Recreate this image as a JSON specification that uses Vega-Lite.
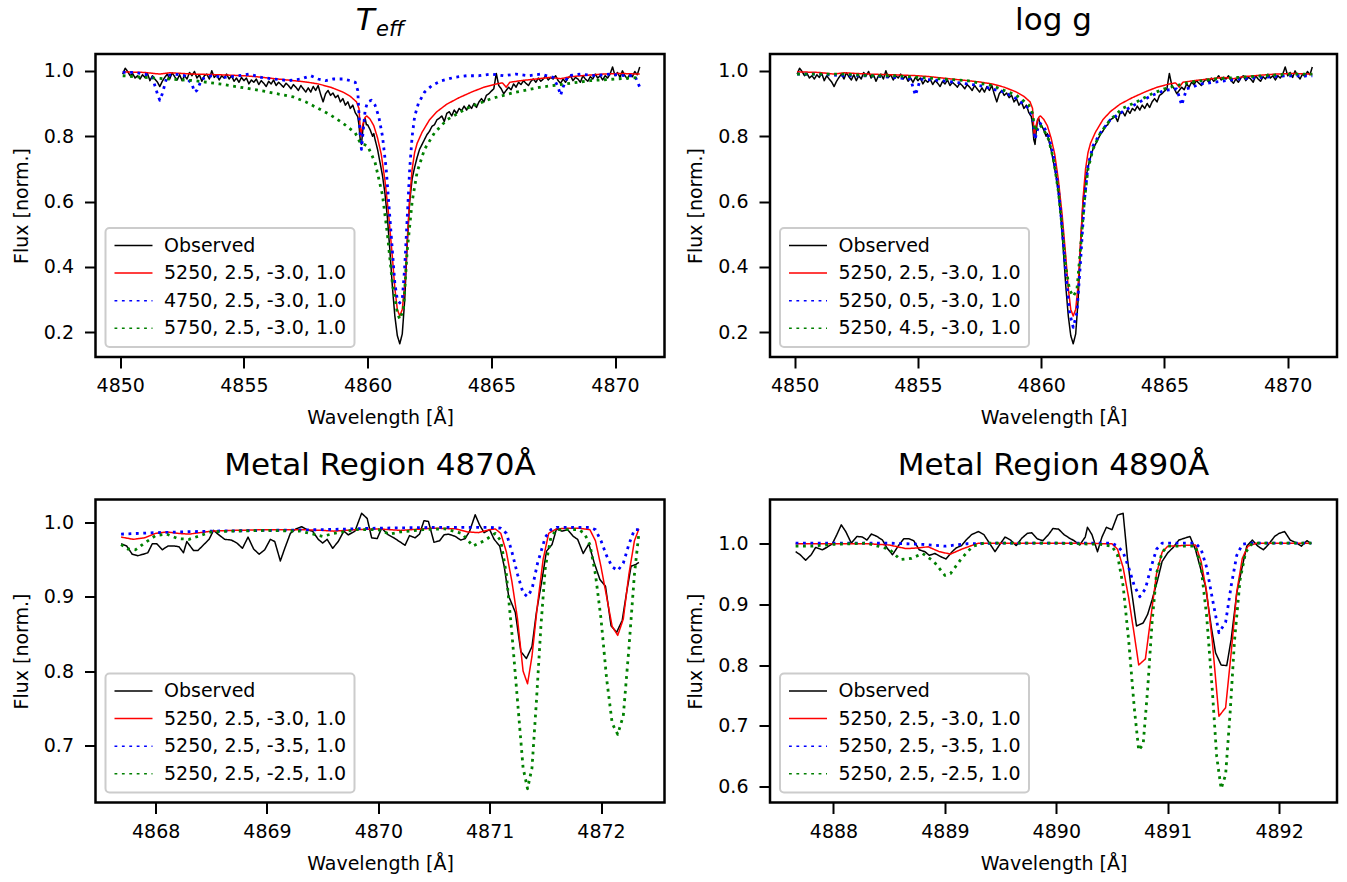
{
"$schema": "https://vega.github.io/schema/vega-lite/v6.json",
"padding": {"left": 10.5, "top": 3, "right": 5, "bottom": 5},
"columns": 2,
"spacing": {"row": 19.5, "column": 18.5},
"align": "all",
"bounds": "full",
"config": {
  "font": "DejaVu Sans",
  "view": {"stroke": "black", "strokeWidth": 2.5},
  "axis": {"domain": false, "grid": false, "tickColor": "black", "tickSize": 11, "tickWidth": 2, "labelFont": "DejaVu Sans", "labelFontSize": 19, "labelColor": "black", "titleFont": "DejaVu Sans", "titleFontSize": 19, "titleFontWeight": "normal", "titleColor": "black"},
  "axisX": {"labelPadding": 8.5, "titlePadding": 13, "format": "d", "labelFlush": false, "labelOverlap": false},
  "axisY": {"labelPadding": 11, "titlePadding": 12, "format": ".1f", "labelOverlap": false},
  "title": {"font": "DejaVu Sans", "fontSize": 31, "fontWeight": "normal", "color": "black", "anchor": "middle", "frame": "group", "baseline": "alphabetic", "offset": 17.5},
  "legend": {"orient": "bottom-left", "offset": 10, "title": null, "fillColor": "rgba(255,255,255,0.8)", "strokeColor": "#cccccc", "strokeWidth": 2, "cornerRadius": 4, "padding": 8, "labelFont": "DejaVu Sans", "labelFontSize": 19, "labelColor": "black", "labelLimit": 400, "symbolType": "M-2.5,0H2.5", "symbolSize": 231, "symbolStrokeWidth": 1.5, "symbolOffset": 10.5, "labelOffset": 21, "rowPadding": 7.6},
  "line": {"strokeCap": "butt", "strokeJoin": "round"}
},
"resolve": {"scale": {"color": "independent", "strokeDash": "independent"}, "legend": {"color": "independent", "strokeDash": "independent"}},
"datasets": {
"hb": [
{"k":"o","w":4850.1,"f":0.990},{"k":"o","w":4850.2,"f":1.008},{"k":"o","w":4850.3,"f":0.998},{"k":"o","w":4850.4,"f":0.985},{"k":"o","w":4850.5,"f":0.992},{"k":"o","w":4850.6,"f":0.978},{"k":"o","w":4850.7,"f":0.985},{"k":"o","w":4850.8,"f":0.975},{"k":"o","w":4850.9,"f":0.988},{"k":"o","w":4851.0,"f":0.980},
{"k":"o","w":4851.1,"f":0.992},{"k":"o","w":4851.2,"f":0.970},{"k":"o","w":4851.3,"f":0.985},{"k":"o","w":4851.4,"f":0.975},{"k":"o","w":4851.5,"f":0.966},{"k":"o","w":4851.6,"f":0.952},{"k":"o","w":4851.7,"f":0.968},{"k":"o","w":4851.8,"f":0.980},{"k":"o","w":4851.9,"f":0.990},{"k":"o","w":4852.0,"f":0.975},
{"k":"o","w":4852.1,"f":0.994},{"k":"o","w":4852.2,"f":0.982},{"k":"o","w":4852.3,"f":0.972},{"k":"o","w":4852.4,"f":0.988},{"k":"o","w":4852.5,"f":0.970},{"k":"o","w":4852.6,"f":0.985},{"k":"o","w":4852.7,"f":0.975},{"k":"o","w":4852.8,"f":0.995},{"k":"o","w":4852.9,"f":0.985},{"k":"o","w":4853.0,"f":0.998},
{"k":"o","w":4853.1,"f":0.978},{"k":"o","w":4853.2,"f":0.988},{"k":"o","w":4853.3,"f":0.968},{"k":"o","w":4853.4,"f":0.985},{"k":"o","w":4853.5,"f":0.990},{"k":"o","w":4853.6,"f":0.975},{"k":"o","w":4853.7,"f":1.000},{"k":"o","w":4853.8,"f":0.980},{"k":"o","w":4853.9,"f":0.988},{"k":"o","w":4854.0,"f":0.972},
{"k":"o","w":4854.1,"f":0.985},{"k":"o","w":4854.2,"f":0.978},{"k":"o","w":4854.3,"f":0.990},{"k":"o","w":4854.4,"f":0.975},{"k":"o","w":4854.5,"f":0.985},{"k":"o","w":4854.6,"f":0.968},{"k":"o","w":4854.7,"f":0.978},{"k":"o","w":4854.8,"f":0.965},{"k":"o","w":4854.9,"f":0.980},{"k":"o","w":4855.0,"f":0.970},
{"k":"o","w":4855.1,"f":0.978},{"k":"o","w":4855.2,"f":0.960},{"k":"o","w":4855.3,"f":0.972},{"k":"o","w":4855.4,"f":0.965},{"k":"o","w":4855.5,"f":0.975},{"k":"o","w":4855.6,"f":0.958},{"k":"o","w":4855.7,"f":0.970},{"k":"o","w":4855.8,"f":0.962},{"k":"o","w":4855.9,"f":0.952},{"k":"o","w":4856.0,"f":0.968},
{"k":"o","w":4856.1,"f":0.960},{"k":"o","w":4856.2,"f":0.972},{"k":"o","w":4856.3,"f":0.955},{"k":"o","w":4856.4,"f":0.965},{"k":"o","w":4856.5,"f":0.958},{"k":"o","w":4856.6,"f":0.950},{"k":"o","w":4856.7,"f":0.962},{"k":"o","w":4856.8,"f":0.955},{"k":"o","w":4856.9,"f":0.945},{"k":"o","w":4857.0,"f":0.958},
{"k":"o","w":4857.1,"f":0.950},{"k":"o","w":4857.2,"f":0.940},{"k":"o","w":4857.3,"f":0.955},{"k":"o","w":4857.4,"f":0.945},{"k":"o","w":4857.5,"f":0.935},{"k":"o","w":4857.6,"f":0.948},{"k":"o","w":4857.7,"f":0.935},{"k":"o","w":4857.8,"f":0.952},{"k":"o","w":4857.9,"f":0.940},{"k":"o","w":4858.0,"f":0.955},
{"k":"o","w":4858.1,"f":0.928},{"k":"o","w":4858.2,"f":0.905},{"k":"o","w":4858.3,"f":0.930},{"k":"o","w":4858.4,"f":0.940},{"k":"o","w":4858.5,"f":0.925},{"k":"o","w":4858.6,"f":0.932},{"k":"o","w":4858.7,"f":0.918},{"k":"o","w":4858.8,"f":0.925},{"k":"o","w":4858.9,"f":0.905},{"k":"o","w":4859.0,"f":0.915},
{"k":"o","w":4859.1,"f":0.895},{"k":"o","w":4859.2,"f":0.905},{"k":"o","w":4859.3,"f":0.885},{"k":"o","w":4859.4,"f":0.895},{"k":"o","w":4859.5,"f":0.872},{"k":"o","w":4859.6,"f":0.860},{"k":"o","w":4859.65,"f":0.835},{"k":"o","w":4859.7,"f":0.790},{"k":"o","w":4859.75,"f":0.775},{"k":"o","w":4859.8,"f":0.815},
{"k":"o","w":4859.85,"f":0.850},{"k":"o","w":4859.9,"f":0.855},{"k":"o","w":4859.95,"f":0.835},{"k":"o","w":4860.0,"f":0.835},{"k":"o","w":4860.1,"f":0.820},{"k":"o","w":4860.2,"f":0.800},{"k":"o","w":4860.25,"f":0.808},{"k":"o","w":4860.3,"f":0.790},{"k":"o","w":4860.4,"f":0.760},{"k":"o","w":4860.5,"f":0.720},
{"k":"o","w":4860.6,"f":0.680},{"k":"o","w":4860.7,"f":0.625},{"k":"o","w":4860.8,"f":0.550},{"k":"o","w":4860.9,"f":0.450},{"k":"o","w":4861.0,"f":0.340},{"k":"o","w":4861.1,"f":0.250},{"k":"o","w":4861.2,"f":0.190},{"k":"o","w":4861.3,"f":0.165},{"k":"o","w":4861.4,"f":0.195},{"k":"o","w":4861.5,"f":0.300},
{"k":"o","w":4861.6,"f":0.470},{"k":"o","w":4861.7,"f":0.600},{"k":"o","w":4861.8,"f":0.670},{"k":"o","w":4861.9,"f":0.705},{"k":"o","w":4862.0,"f":0.735},{"k":"o","w":4862.1,"f":0.760},{"k":"o","w":4862.2,"f":0.775},{"k":"o","w":4862.3,"f":0.790},{"k":"o","w":4862.4,"f":0.805},{"k":"o","w":4862.5,"f":0.815},
{"k":"o","w":4862.6,"f":0.830},{"k":"o","w":4862.7,"f":0.835},{"k":"o","w":4862.8,"f":0.850},{"k":"o","w":4862.9,"f":0.855},{"k":"o","w":4863.0,"f":0.862},{"k":"o","w":4863.1,"f":0.845},{"k":"o","w":4863.2,"f":0.870},{"k":"o","w":4863.3,"f":0.875},{"k":"o","w":4863.4,"f":0.862},{"k":"o","w":4863.5,"f":0.880},
{"k":"o","w":4863.6,"f":0.870},{"k":"o","w":4863.7,"f":0.885},{"k":"o","w":4863.8,"f":0.878},{"k":"o","w":4863.9,"f":0.892},{"k":"o","w":4864.0,"f":0.880},{"k":"o","w":4864.1,"f":0.895},{"k":"o","w":4864.2,"f":0.885},{"k":"o","w":4864.3,"f":0.900},{"k":"o","w":4864.4,"f":0.888},{"k":"o","w":4864.5,"f":0.905},
{"k":"o","w":4864.6,"f":0.915},{"k":"o","w":4864.7,"f":0.905},{"k":"o","w":4864.8,"f":0.925},{"k":"o","w":4864.9,"f":0.930},{"k":"o","w":4865.0,"f":0.938},{"k":"o","w":4865.1,"f":0.945},{"k":"o","w":4865.2,"f":0.992},{"k":"o","w":4865.3,"f":0.955},{"k":"o","w":4865.4,"f":0.945},{"k":"o","w":4865.5,"f":0.930},
{"k":"o","w":4865.6,"f":0.940},{"k":"o","w":4865.7,"f":0.950},{"k":"o","w":4865.8,"f":0.942},{"k":"o","w":4865.9,"f":0.960},{"k":"o","w":4866.0,"f":0.950},{"k":"o","w":4866.1,"f":0.965},{"k":"o","w":4866.2,"f":0.958},{"k":"o","w":4866.3,"f":0.970},{"k":"o","w":4866.4,"f":0.962},{"k":"o","w":4866.5,"f":0.955},
{"k":"o","w":4866.6,"f":0.968},{"k":"o","w":4866.7,"f":0.975},{"k":"o","w":4866.8,"f":0.965},{"k":"o","w":4866.9,"f":0.978},{"k":"o","w":4867.0,"f":0.968},{"k":"o","w":4867.1,"f":0.975},{"k":"o","w":4867.2,"f":0.985},{"k":"o","w":4867.3,"f":0.972},{"k":"o","w":4867.4,"f":0.980},{"k":"o","w":4867.5,"f":0.975},
{"k":"o","w":4867.6,"f":0.985},{"k":"o","w":4867.7,"f":0.970},{"k":"o","w":4867.8,"f":0.962},{"k":"o","w":4867.9,"f":0.975},{"k":"o","w":4868.0,"f":0.965},{"k":"o","w":4868.1,"f":0.978},{"k":"o","w":4868.2,"f":0.985},{"k":"o","w":4868.3,"f":0.970},{"k":"o","w":4868.4,"f":0.980},{"k":"o","w":4868.5,"f":0.975},
{"k":"o","w":4868.6,"f":0.965},{"k":"o","w":4868.7,"f":0.985},{"k":"o","w":4868.8,"f":0.975},{"k":"o","w":4868.9,"f":0.968},{"k":"o","w":4869.0,"f":0.982},{"k":"o","w":4869.1,"f":0.975},{"k":"o","w":4869.2,"f":0.990},{"k":"o","w":4869.3,"f":0.978},{"k":"o","w":4869.4,"f":0.985},{"k":"o","w":4869.5,"f":0.972},
{"k":"o","w":4869.6,"f":0.985},{"k":"o","w":4869.7,"f":0.978},{"k":"o","w":4869.8,"f":0.990},{"k":"o","w":4869.9,"f":1.012},{"k":"o","w":4870.0,"f":0.985},{"k":"o","w":4870.1,"f":0.995},{"k":"o","w":4870.2,"f":0.980},{"k":"o","w":4870.3,"f":1.000},{"k":"o","w":4870.4,"f":0.985},{"k":"o","w":4870.5,"f":0.975},
{"k":"o","w":4870.6,"f":0.990},{"k":"o","w":4870.7,"f":0.982},{"k":"o","w":4870.8,"f":0.998},{"k":"o","w":4870.9,"f":0.988},{"k":"o","w":4871.0,"f":1.012},
{"k":"r","w":4850.1,"f":0.997},{"k":"r","w":4851.0,"f":0.995},{"k":"r","w":4851.6,"f":0.990},{"k":"r","w":4852.0,"f":0.994},{"k":"r","w":4853.0,"f":0.990},{"k":"r","w":4854.0,"f":0.988},{"k":"r","w":4855.0,"f":0.985},{"k":"r","w":4855.5,"f":0.982},{"k":"r","w":4856.0,"f":0.978},{"k":"r","w":4856.5,"f":0.974},
{"k":"r","w":4857.0,"f":0.970},{"k":"r","w":4857.5,"f":0.966},{"k":"r","w":4858.0,"f":0.960},{"k":"r","w":4858.5,"f":0.950},{"k":"r","w":4859.0,"f":0.935},{"k":"r","w":4859.3,"f":0.922},{"k":"r","w":4859.55,"f":0.905},{"k":"r","w":4859.65,"f":0.885},{"k":"r","w":4859.72,"f":0.800},{"k":"r","w":4859.8,"f":0.835},
{"k":"r","w":4859.9,"f":0.858},{"k":"r","w":4859.97,"f":0.862},{"k":"r","w":4860.1,"f":0.852},{"k":"r","w":4860.25,"f":0.832},{"k":"r","w":4860.4,"f":0.795},{"k":"r","w":4860.55,"f":0.745},{"k":"r","w":4860.7,"f":0.665},{"k":"r","w":4860.85,"f":0.560},{"k":"r","w":4861.0,"f":0.430},{"k":"r","w":4861.1,"f":0.335},
{"k":"r","w":4861.2,"f":0.270},{"k":"r","w":4861.3,"f":0.250},{"k":"r","w":4861.4,"f":0.270},{"k":"r","w":4861.5,"f":0.345},{"k":"r","w":4861.6,"f":0.480},{"k":"r","w":4861.7,"f":0.610},{"k":"r","w":4861.8,"f":0.700},{"k":"r","w":4861.9,"f":0.750},{"k":"r","w":4862.0,"f":0.778},{"k":"r","w":4862.2,"f":0.812},
{"k":"r","w":4862.5,"f":0.850},{"k":"r","w":4862.8,"f":0.875},{"k":"r","w":4863.2,"f":0.898},{"k":"r","w":4863.7,"f":0.918},{"k":"r","w":4864.2,"f":0.935},{"k":"r","w":4864.7,"f":0.950},{"k":"r","w":4865.2,"f":0.960},{"k":"r","w":4865.45,"f":0.963},{"k":"r","w":4865.6,"f":0.950},{"k":"r","w":4865.75,"f":0.965},
{"k":"r","w":4866.2,"f":0.970},{"k":"r","w":4866.8,"f":0.975},{"k":"r","w":4867.4,"f":0.980},{"k":"r","w":4867.8,"f":0.976},{"k":"r","w":4868.2,"f":0.982},{"k":"r","w":4868.8,"f":0.986},{"k":"r","w":4869.5,"f":0.990},{"k":"r","w":4870.2,"f":0.992},{"k":"r","w":4871.0,"f":0.990},
{"k":"bt","w":4850.1,"f":0.995},{"k":"bt","w":4850.6,"f":0.995},{"k":"bt","w":4851.0,"f":0.990},{"k":"bt","w":4851.3,"f":0.980},{"k":"bt","w":4851.5,"f":0.930},{"k":"bt","w":4851.6,"f":0.910},{"k":"bt","w":4851.7,"f":0.930},{"k":"bt","w":4851.9,"f":0.985},{"k":"bt","w":4852.2,"f":0.990},{"k":"bt","w":4852.6,"f":0.985},
{"k":"bt","w":4852.9,"f":0.960},{"k":"bt","w":4853.0,"f":0.935},{"k":"bt","w":4853.1,"f":0.940},{"k":"bt","w":4853.3,"f":0.975},{"k":"bt","w":4853.7,"f":0.985},{"k":"bt","w":4854.2,"f":0.980},{"k":"bt","w":4854.8,"f":0.985},{"k":"bt","w":4855.2,"f":0.990},{"k":"bt","w":4855.7,"f":0.980},{"k":"bt","w":4856.2,"f":0.975},
{"k":"bt","w":4856.8,"f":0.970},{"k":"bt","w":4857.3,"f":0.975},{"k":"bt","w":4857.7,"f":0.985},{"k":"bt","w":4858.0,"f":0.975},{"k":"bt","w":4858.3,"f":0.970},{"k":"bt","w":4858.6,"f":0.975},{"k":"bt","w":4859.0,"f":0.975},{"k":"bt","w":4859.3,"f":0.970},{"k":"bt","w":4859.5,"f":0.965},{"k":"bt","w":4859.6,"f":0.940},
{"k":"bt","w":4859.7,"f":0.800},{"k":"bt","w":4859.75,"f":0.760},{"k":"bt","w":4859.8,"f":0.800},{"k":"bt","w":4859.9,"f":0.880},{"k":"bt","w":4860.0,"f":0.905},{"k":"bt","w":4860.15,"f":0.910},{"k":"bt","w":4860.3,"f":0.895},{"k":"bt","w":4860.45,"f":0.860},{"k":"bt","w":4860.6,"f":0.800},{"k":"bt","w":4860.75,"f":0.700},
{"k":"bt","w":4860.9,"f":0.550},{"k":"bt","w":4861.0,"f":0.450},{"k":"bt","w":4861.1,"f":0.350},{"k":"bt","w":4861.2,"f":0.300},{"k":"bt","w":4861.3,"f":0.290},{"k":"bt","w":4861.4,"f":0.300},{"k":"bt","w":4861.5,"f":0.400},{"k":"bt","w":4861.6,"f":0.550},{"k":"bt","w":4861.7,"f":0.700},{"k":"bt","w":4861.8,"f":0.800},
{"k":"bt","w":4861.9,"f":0.860},{"k":"bt","w":4862.05,"f":0.900},{"k":"bt","w":4862.3,"f":0.935},{"k":"bt","w":4862.6,"f":0.955},{"k":"bt","w":4863.0,"f":0.970},{"k":"bt","w":4863.5,"f":0.980},{"k":"bt","w":4864.0,"f":0.985},{"k":"bt","w":4864.5,"f":0.985},{"k":"bt","w":4865.0,"f":0.990},{"k":"bt","w":4865.5,"f":0.985},
{"k":"bt","w":4866.0,"f":0.990},{"k":"bt","w":4866.5,"f":0.985},{"k":"bt","w":4867.0,"f":0.990},{"k":"bt","w":4867.5,"f":0.980},{"k":"bt","w":4867.7,"f":0.950},{"k":"bt","w":4867.8,"f":0.925},{"k":"bt","w":4867.9,"f":0.950},{"k":"bt","w":4868.1,"f":0.985},{"k":"bt","w":4868.6,"f":0.990},{"k":"bt","w":4869.2,"f":0.985},
{"k":"bt","w":4869.8,"f":0.990},{"k":"bt","w":4870.4,"f":0.985},{"k":"bt","w":4870.8,"f":0.985},{"k":"bt","w":4871.0,"f":0.950},
{"k":"gt","w":4850.1,"f":0.985},{"k":"gt","w":4851.0,"f":0.980},{"k":"gt","w":4852.0,"f":0.975},{"k":"gt","w":4853.0,"f":0.970},{"k":"gt","w":4854.0,"f":0.960},{"k":"gt","w":4855.0,"f":0.948},{"k":"gt","w":4856.0,"f":0.935},{"k":"gt","w":4857.0,"f":0.920},{"k":"gt","w":4857.5,"f":0.905},{"k":"gt","w":4858.0,"f":0.885},
{"k":"gt","w":4858.5,"f":0.865},{"k":"gt","w":4859.0,"f":0.840},{"k":"gt","w":4859.5,"f":0.810},{"k":"gt","w":4859.7,"f":0.780},{"k":"gt","w":4860.0,"f":0.770},{"k":"gt","w":4860.3,"f":0.720},{"k":"gt","w":4860.6,"f":0.620},{"k":"gt","w":4860.8,"f":0.500},{"k":"gt","w":4861.0,"f":0.350},{"k":"gt","w":4861.2,"f":0.260},
{"k":"gt","w":4861.3,"f":0.240},{"k":"gt","w":4861.45,"f":0.270},{"k":"gt","w":4861.6,"f":0.450},{"k":"gt","w":4861.8,"f":0.600},{"k":"gt","w":4862.0,"f":0.690},{"k":"gt","w":4862.3,"f":0.760},{"k":"gt","w":4862.7,"f":0.810},{"k":"gt","w":4863.2,"f":0.850},{"k":"gt","w":4864.0,"f":0.885},{"k":"gt","w":4865.0,"f":0.915},
{"k":"gt","w":4866.0,"f":0.935},{"k":"gt","w":4867.0,"f":0.950},{"k":"gt","w":4868.0,"f":0.960},{"k":"gt","w":4869.0,"f":0.970},{"k":"gt","w":4870.0,"f":0.975},{"k":"gt","w":4871.0,"f":0.980},
{"k":"bg","w":4850.1,"f":0.990},{"k":"bg","w":4851.0,"f":0.990},{"k":"bg","w":4852.0,"f":0.985},{"k":"bg","w":4853.0,"f":0.985},{"k":"bg","w":4854.0,"f":0.980},{"k":"bg","w":4854.7,"f":0.975},{"k":"bg","w":4854.9,"f":0.925},{"k":"bg","w":4855.1,"f":0.975},{"k":"bg","w":4856.0,"f":0.970},{"k":"bg","w":4857.0,"f":0.960},
{"k":"bg","w":4857.5,"f":0.955},{"k":"bg","w":4858.0,"f":0.945},{"k":"bg","w":4858.5,"f":0.935},{"k":"bg","w":4859.0,"f":0.915},{"k":"bg","w":4859.5,"f":0.885},{"k":"bg","w":4859.65,"f":0.860},{"k":"bg","w":4859.75,"f":0.790},{"k":"bg","w":4859.85,"f":0.820},{"k":"bg","w":4859.95,"f":0.840},{"k":"bg","w":4860.1,"f":0.830},
{"k":"bg","w":4860.3,"f":0.800},{"k":"bg","w":4860.5,"f":0.740},{"k":"bg","w":4860.7,"f":0.640},{"k":"bg","w":4860.85,"f":0.520},{"k":"bg","w":4861.0,"f":0.380},{"k":"bg","w":4861.15,"f":0.260},{"k":"bg","w":4861.3,"f":0.215},{"k":"bg","w":4861.45,"f":0.260},{"k":"bg","w":4861.6,"f":0.420},{"k":"bg","w":4861.75,"f":0.600},
{"k":"bg","w":4861.9,"f":0.710},{"k":"bg","w":4862.1,"f":0.770},{"k":"bg","w":4862.4,"f":0.810},{"k":"bg","w":4862.8,"f":0.850},{"k":"bg","w":4863.3,"f":0.875},{"k":"bg","w":4864.0,"f":0.905},{"k":"bg","w":4864.5,"f":0.925},{"k":"bg","w":4865.0,"f":0.940},{"k":"bg","w":4865.5,"f":0.945},{"k":"bg","w":4865.7,"f":0.895},
{"k":"bg","w":4865.9,"f":0.945},{"k":"bg","w":4866.5,"f":0.960},{"k":"bg","w":4867.0,"f":0.965},{"k":"bg","w":4868.0,"f":0.975},{"k":"bg","w":4869.0,"f":0.980},{"k":"bg","w":4870.0,"f":0.985},{"k":"bg","w":4871.0,"f":0.985},
{"k":"gg","w":4850.1,"f":0.990},{"k":"gg","w":4851.0,"f":0.990},{"k":"gg","w":4852.0,"f":0.990},{"k":"gg","w":4853.0,"f":0.985},{"k":"gg","w":4854.0,"f":0.985},{"k":"gg","w":4855.0,"f":0.980},{"k":"gg","w":4856.0,"f":0.975},{"k":"gg","w":4857.0,"f":0.970},{"k":"gg","w":4858.0,"f":0.955},{"k":"gg","w":4858.5,"f":0.940},
{"k":"gg","w":4859.0,"f":0.925},{"k":"gg","w":4859.5,"f":0.895},{"k":"gg","w":4859.65,"f":0.870},{"k":"gg","w":4859.75,"f":0.815},{"k":"gg","w":4859.85,"f":0.830},{"k":"gg","w":4859.95,"f":0.835},{"k":"gg","w":4860.1,"f":0.820},{"k":"gg","w":4860.3,"f":0.790},{"k":"gg","w":4860.5,"f":0.730},{"k":"gg","w":4860.7,"f":0.630},
{"k":"gg","w":4860.85,"f":0.520},{"k":"gg","w":4861.0,"f":0.400},{"k":"gg","w":4861.15,"f":0.330},{"k":"gg","w":4861.3,"f":0.310},{"k":"gg","w":4861.45,"f":0.330},{"k":"gg","w":4861.6,"f":0.460},{"k":"gg","w":4861.75,"f":0.600},{"k":"gg","w":4861.9,"f":0.700},{"k":"gg","w":4862.1,"f":0.760},{"k":"gg","w":4862.4,"f":0.810},
{"k":"gg","w":4862.8,"f":0.850},{"k":"gg","w":4863.3,"f":0.885},{"k":"gg","w":4864.0,"f":0.910},{"k":"gg","w":4864.5,"f":0.930},{"k":"gg","w":4865.0,"f":0.945},{"k":"gg","w":4865.5,"f":0.955},{"k":"gg","w":4866.0,"f":0.965},{"k":"gg","w":4867.0,"f":0.975},{"k":"gg","w":4868.0,"f":0.980},{"k":"gg","w":4869.0,"f":0.985},
{"k":"gg","w":4870.0,"f":0.990},{"k":"gg","w":4871.0,"f":0.990}
],
"m1": [
{"k":"o","w":4867.69,"f":0.971},{"k":"o","w":4867.74,"f":0.968},{"k":"o","w":4867.79,"f":0.957},{"k":"o","w":4867.84,"f":0.955},{"k":"o","w":4867.89,"f":0.957},{"k":"o","w":4867.93,"f":0.959},{"k":"o","w":4867.97,"f":0.971},{"k":"o","w":4868.01,"f":0.971},{"k":"o","w":4868.06,"f":0.963},{"k":"o","w":4868.11,"f":0.968},
{"k":"o","w":4868.17,"f":0.968},{"k":"o","w":4868.21,"f":0.967},{"k":"o","w":4868.25,"f":0.959},{"k":"o","w":4868.28,"f":0.974},{"k":"o","w":4868.34,"f":0.962},{"k":"o","w":4868.38,"f":0.962},{"k":"o","w":4868.44,"f":0.971},{"k":"o","w":4868.48,"f":0.977},{"k":"o","w":4868.52,"f":0.989},{"k":"o","w":4868.56,"f":0.984},
{"k":"o","w":4868.62,"f":0.977},{"k":"o","w":4868.68,"f":0.976},{"k":"o","w":4868.73,"f":0.972},{"k":"o","w":4868.78,"f":0.965},{"k":"o","w":4868.83,"f":0.980},{"k":"o","w":4868.88,"f":0.964},{"k":"o","w":4868.93,"f":0.957},{"k":"o","w":4868.98,"f":0.963},{"k":"o","w":4869.03,"f":0.977},{"k":"o","w":4869.07,"f":0.974},
{"k":"o","w":4869.12,"f":0.948},{"k":"o","w":4869.16,"f":0.965},{"k":"o","w":4869.21,"f":0.985},{"k":"o","w":4869.26,"f":0.991},{"k":"o","w":4869.31,"f":0.994},{"k":"o","w":4869.36,"f":0.990},{"k":"o","w":4869.41,"f":0.988},{"k":"o","w":4869.46,"f":0.977},{"k":"o","w":4869.50,"f":0.972},{"k":"o","w":4869.54,"f":0.977},
{"k":"o","w":4869.59,"f":0.965},{"k":"o","w":4869.64,"f":0.974},{"k":"o","w":4869.69,"f":0.988},{"k":"o","w":4869.73,"f":0.983},{"k":"o","w":4869.79,"f":0.988},{"k":"o","w":4869.85,"f":1.012},{"k":"o","w":4869.90,"f":1.005},{"k":"o","w":4869.94,"f":0.979},{"k":"o","w":4869.99,"f":0.978},{"k":"o","w":4870.03,"f":0.992},
{"k":"o","w":4870.09,"f":0.983},{"k":"o","w":4870.14,"f":0.979},{"k":"o","w":4870.19,"f":0.974},{"k":"o","w":4870.24,"f":0.969},{"k":"o","w":4870.28,"f":0.982},{"k":"o","w":4870.33,"f":0.979},{"k":"o","w":4870.37,"f":0.984},{"k":"o","w":4870.41,"f":1.002},{"k":"o","w":4870.45,"f":1.001},{"k":"o","w":4870.50,"f":0.973},
{"k":"o","w":4870.55,"f":0.975},{"k":"o","w":4870.59,"f":0.983},{"k":"o","w":4870.63,"f":0.984},{"k":"o","w":4870.69,"f":0.981},{"k":"o","w":4870.74,"f":0.976},{"k":"o","w":4870.78,"f":0.978},{"k":"o","w":4870.82,"f":0.988},{"k":"o","w":4870.87,"f":1.010},{"k":"o","w":4870.91,"f":0.996},{"k":"o","w":4870.95,"f":0.986},
{"k":"o","w":4871.00,"f":0.990},{"k":"o","w":4871.04,"f":0.977},{"k":"o","w":4871.09,"f":0.968},{"k":"o","w":4871.13,"f":0.941},{"k":"o","w":4871.17,"f":0.901},{"k":"o","w":4871.23,"f":0.879},{"k":"o","w":4871.28,"f":0.826},{"k":"o","w":4871.33,"f":0.817},{"k":"o","w":4871.38,"f":0.833},{"k":"o","w":4871.42,"f":0.879},
{"k":"o","w":4871.47,"f":0.923},{"k":"o","w":4871.51,"f":0.961},{"k":"o","w":4871.56,"f":0.970},{"k":"o","w":4871.60,"f":0.991},{"k":"o","w":4871.65,"f":0.988},{"k":"o","w":4871.70,"f":0.990},{"k":"o","w":4871.75,"f":0.981},{"k":"o","w":4871.79,"f":0.977},{"k":"o","w":4871.84,"f":0.958},{"k":"o","w":4871.89,"f":0.971},
{"k":"o","w":4871.94,"f":0.945},{"k":"o","w":4871.99,"f":0.923},{"k":"o","w":4872.04,"f":0.914},{"k":"o","w":4872.09,"f":0.861},{"k":"o","w":4872.14,"f":0.852},{"k":"o","w":4872.19,"f":0.868},{"k":"o","w":4872.23,"f":0.906},{"k":"o","w":4872.27,"f":0.941},{"k":"o","w":4872.31,"f":0.943},{"k":"o","w":4872.34,"f":0.946},
{"k":"r","w":4867.69,"f":0.980},{"k":"r","w":4867.8,"f":0.977},{"k":"r","w":4867.9,"f":0.979},{"k":"r","w":4868.0,"f":0.985},{"k":"r","w":4868.1,"f":0.987},{"k":"r","w":4868.2,"f":0.985},{"k":"r","w":4868.3,"f":0.984},{"k":"r","w":4868.4,"f":0.986},{"k":"r","w":4868.5,"f":0.988},{"k":"r","w":4868.7,"f":0.989},
{"k":"r","w":4869.0,"f":0.990},{"k":"r","w":4869.3,"f":0.990},{"k":"r","w":4869.5,"f":0.989},{"k":"r","w":4869.6,"f":0.988},{"k":"r","w":4869.8,"f":0.990},{"k":"r","w":4870.0,"f":0.991},{"k":"r","w":4870.1,"f":0.990},{"k":"r","w":4870.2,"f":0.989},{"k":"r","w":4870.3,"f":0.990},{"k":"r","w":4870.5,"f":0.992},
{"k":"r","w":4870.7,"f":0.991},{"k":"r","w":4870.8,"f":0.987},{"k":"r","w":4870.9,"f":0.986},{"k":"r","w":4871.0,"f":0.990},{"k":"r","w":4871.05,"f":0.991},{"k":"r","w":4871.1,"f":0.985},{"k":"r","w":4871.15,"f":0.960},{"k":"r","w":4871.2,"f":0.920},{"k":"r","w":4871.25,"f":0.870},{"k":"r","w":4871.3,"f":0.800},
{"k":"r","w":4871.34,"f":0.783},{"k":"r","w":4871.38,"f":0.820},{"k":"r","w":4871.43,"f":0.890},{"k":"r","w":4871.48,"f":0.950},{"k":"r","w":4871.53,"f":0.985},{"k":"r","w":4871.6,"f":0.991},{"k":"r","w":4871.7,"f":0.992},{"k":"r","w":4871.8,"f":0.992},{"k":"r","w":4871.9,"f":0.990},{"k":"r","w":4871.95,"f":0.975},
{"k":"r","w":4872.0,"f":0.940},{"k":"r","w":4872.05,"f":0.900},{"k":"r","w":4872.1,"f":0.860},{"k":"r","w":4872.15,"f":0.848},{"k":"r","w":4872.2,"f":0.870},{"k":"r","w":4872.25,"f":0.930},{"k":"r","w":4872.3,"f":0.975},{"k":"r","w":4872.34,"f":0.991},
{"k":"b","w":4867.69,"f":0.984},{"k":"b","w":4868.0,"f":0.986},{"k":"b","w":4868.5,"f":0.988},{"k":"b","w":4869.0,"f":0.989},{"k":"b","w":4869.5,"f":0.990},{"k":"b","w":4870.0,"f":0.992},{"k":"b","w":4870.5,"f":0.993},{"k":"b","w":4871.0,"f":0.993},{"k":"b","w":4871.1,"f":0.992},{"k":"b","w":4871.15,"f":0.985},
{"k":"b","w":4871.2,"f":0.960},{"k":"b","w":4871.25,"f":0.930},{"k":"b","w":4871.3,"f":0.905},{"k":"b","w":4871.34,"f":0.900},{"k":"b","w":4871.38,"f":0.910},{"k":"b","w":4871.43,"f":0.945},{"k":"b","w":4871.5,"f":0.980},{"k":"b","w":4871.55,"f":0.990},{"k":"b","w":4871.6,"f":0.993},{"k":"b","w":4871.9,"f":0.993},
{"k":"b","w":4871.95,"f":0.990},{"k":"b","w":4872.0,"f":0.975},{"k":"b","w":4872.05,"f":0.955},{"k":"b","w":4872.1,"f":0.940},{"k":"b","w":4872.15,"f":0.935},{"k":"b","w":4872.2,"f":0.945},{"k":"b","w":4872.25,"f":0.970},{"k":"b","w":4872.3,"f":0.990},{"k":"b","w":4872.34,"f":0.990},
{"k":"g","w":4867.69,"f":0.970},{"k":"g","w":4867.75,"f":0.964},{"k":"g","w":4867.82,"f":0.963},{"k":"g","w":4867.9,"f":0.972},{"k":"g","w":4868.0,"f":0.982},{"k":"g","w":4868.1,"f":0.984},{"k":"g","w":4868.2,"f":0.978},{"k":"g","w":4868.3,"f":0.977},{"k":"g","w":4868.4,"f":0.982},{"k":"g","w":4868.5,"f":0.987},
{"k":"g","w":4868.7,"f":0.988},{"k":"g","w":4869.0,"f":0.989},{"k":"g","w":4869.3,"f":0.988},{"k":"g","w":4869.5,"f":0.981},{"k":"g","w":4869.6,"f":0.985},{"k":"g","w":4869.8,"f":0.990},{"k":"g","w":4870.0,"f":0.990},{"k":"g","w":4870.1,"f":0.984},{"k":"g","w":4870.2,"f":0.987},{"k":"g","w":4870.4,"f":0.990},
{"k":"g","w":4870.6,"f":0.991},{"k":"g","w":4870.75,"f":0.985},{"k":"g","w":4870.85,"f":0.968},{"k":"g","w":4870.95,"f":0.975},{"k":"g","w":4871.05,"f":0.985},{"k":"g","w":4871.1,"f":0.975},{"k":"g","w":4871.15,"f":0.930},{"k":"g","w":4871.2,"f":0.850},{"k":"g","w":4871.25,"f":0.760},{"k":"g","w":4871.3,"f":0.670},
{"k":"g","w":4871.34,"f":0.642},{"k":"g","w":4871.38,"f":0.670},{"k":"g","w":4871.42,"f":0.760},{"k":"g","w":4871.46,"f":0.860},{"k":"g","w":4871.5,"f":0.940},{"k":"g","w":4871.55,"f":0.980},{"k":"g","w":4871.6,"f":0.990},{"k":"g","w":4871.8,"f":0.990},{"k":"g","w":4871.85,"f":0.985},{"k":"g","w":4871.9,"f":0.970},
{"k":"g","w":4871.95,"f":0.930},{"k":"g","w":4872.0,"f":0.870},{"k":"g","w":4872.05,"f":0.790},{"k":"g","w":4872.1,"f":0.730},{"k":"g","w":4872.15,"f":0.715},{"k":"g","w":4872.2,"f":0.740},{"k":"g","w":4872.25,"f":0.830},{"k":"g","w":4872.3,"f":0.930},{"k":"g","w":4872.34,"f":0.985}
],
"m2": [
{"k":"o","w":4887.66,"f":0.986},{"k":"o","w":4887.70,"f":0.981},{"k":"o","w":4887.75,"f":0.972},{"k":"o","w":4887.80,"f":0.981},{"k":"o","w":4887.84,"f":0.993},{"k":"o","w":4887.90,"f":0.989},{"k":"o","w":4887.94,"f":0.993},{"k":"o","w":4887.99,"f":0.999},{"k":"o","w":4888.03,"f":1.014},{"k":"o","w":4888.07,"f":1.030},
{"k":"o","w":4888.11,"f":1.019},{"k":"o","w":4888.16,"f":1.000},{"k":"o","w":4888.21,"f":1.011},{"k":"o","w":4888.26,"f":1.010},{"k":"o","w":4888.30,"f":1.005},{"k":"o","w":4888.34,"f":1.015},{"k":"o","w":4888.39,"f":1.011},{"k":"o","w":4888.44,"f":1.005},{"k":"o","w":4888.48,"f":0.992},{"k":"o","w":4888.53,"f":0.981},
{"k":"o","w":4888.58,"f":0.995},{"k":"o","w":4888.63,"f":1.007},{"k":"o","w":4888.68,"f":1.007},{"k":"o","w":4888.72,"f":1.004},{"k":"o","w":4888.77,"f":0.989},{"k":"o","w":4888.82,"f":0.986},{"k":"o","w":4888.86,"f":0.980},{"k":"o","w":4888.91,"f":0.983},{"k":"o","w":4888.96,"f":0.978},{"k":"o","w":4889.01,"f":0.974},
{"k":"o","w":4889.06,"f":0.985},{"k":"o","w":4889.10,"f":0.992},{"k":"o","w":4889.15,"f":0.996},{"k":"o","w":4889.19,"f":1.005},{"k":"o","w":4889.24,"f":1.014},{"k":"o","w":4889.30,"f":1.019},{"k":"o","w":4889.35,"f":1.014},{"k":"o","w":4889.40,"f":1.000},{"k":"o","w":4889.45,"f":0.986},{"k":"o","w":4889.49,"f":0.997},
{"k":"o","w":4889.54,"f":1.010},{"k":"o","w":4889.59,"f":1.005},{"k":"o","w":4889.64,"f":0.996},{"k":"o","w":4889.69,"f":1.008},{"k":"o","w":4889.74,"f":1.016},{"k":"o","w":4889.78,"f":1.017},{"k":"o","w":4889.83,"f":1.007},{"k":"o","w":4889.88,"f":1.004},{"k":"o","w":4889.93,"f":1.014},{"k":"o","w":4889.97,"f":1.024},
{"k":"o","w":4890.02,"f":1.023},{"k":"o","w":4890.07,"f":1.014},{"k":"o","w":4890.12,"f":1.008},{"k":"o","w":4890.16,"f":1.004},{"k":"o","w":4890.21,"f":0.997},{"k":"o","w":4890.26,"f":1.010},{"k":"o","w":4890.28,"f":1.026},{"k":"o","w":4890.32,"f":1.014},{"k":"o","w":4890.37,"f":0.986},{"k":"o","w":4890.41,"f":1.010},
{"k":"o","w":4890.45,"f":1.026},{"k":"o","w":4890.50,"f":1.022},{"k":"o","w":4890.55,"f":1.046},{"k":"o","w":4890.60,"f":1.049},{"k":"o","w":4890.64,"f":0.973},{"k":"o","w":4890.67,"f":0.929},{"k":"o","w":4890.72,"f":0.864},{"k":"o","w":4890.78,"f":0.869},{"k":"o","w":4890.82,"f":0.883},{"k":"o","w":4890.86,"f":0.907},
{"k":"o","w":4890.91,"f":0.940},{"k":"o","w":4890.95,"f":0.970},{"k":"o","w":4891.00,"f":0.984},{"k":"o","w":4891.05,"f":0.993},{"k":"o","w":4891.10,"f":1.005},{"k":"o","w":4891.15,"f":1.008},{"k":"o","w":4891.20,"f":1.011},{"k":"o","w":4891.25,"f":0.989},{"k":"o","w":4891.29,"f":0.962},{"k":"o","w":4891.34,"f":0.929},
{"k":"o","w":4891.39,"f":0.864},{"k":"o","w":4891.43,"f":0.820},{"k":"o","w":4891.48,"f":0.800},{"k":"o","w":4891.53,"f":0.799},{"k":"o","w":4891.57,"f":0.842},{"k":"o","w":4891.62,"f":0.918},{"k":"o","w":4891.67,"f":0.962},{"k":"o","w":4891.71,"f":0.995},{"k":"o","w":4891.76,"f":1.005},{"k":"o","w":4891.81,"f":0.995},
{"k":"o","w":4891.86,"f":0.989},{"k":"o","w":4891.91,"f":0.999},{"k":"o","w":4891.96,"f":1.011},{"k":"o","w":4892.00,"f":1.016},{"k":"o","w":4892.05,"f":1.019},{"k":"o","w":4892.10,"f":1.005},{"k":"o","w":4892.16,"f":1.000},{"k":"o","w":4892.20,"f":0.995},{"k":"o","w":4892.25,"f":1.004},{"k":"o","w":4892.29,"f":0.999},
{"k":"r","w":4887.66,"f":0.999},{"k":"r","w":4888.0,"f":0.999},{"k":"r","w":4888.3,"f":0.999},{"k":"r","w":4888.5,"f":0.997},{"k":"r","w":4888.65,"f":0.991},{"k":"r","w":4888.75,"f":0.992},{"k":"r","w":4888.85,"f":0.994},{"k":"r","w":4888.95,"f":0.986},{"k":"r","w":4889.05,"f":0.982},{"k":"r","w":4889.15,"f":0.990},
{"k":"r","w":4889.3,"f":1.000},{"k":"r","w":4889.6,"f":1.000},{"k":"r","w":4890.0,"f":1.000},{"k":"r","w":4890.5,"f":0.999},{"k":"r","w":4890.55,"f":0.990},{"k":"r","w":4890.6,"f":0.960},{"k":"r","w":4890.65,"f":0.910},{"k":"r","w":4890.7,"f":0.850},{"k":"r","w":4890.74,"f":0.800},{"k":"r","w":4890.8,"f":0.810},
{"k":"r","w":4890.85,"f":0.880},{"k":"r","w":4890.9,"f":0.950},{"k":"r","w":4890.95,"f":0.985},{"k":"r","w":4891.0,"f":0.995},{"k":"r","w":4891.25,"f":0.997},{"k":"r","w":4891.3,"f":0.970},{"k":"r","w":4891.35,"f":0.920},{"k":"r","w":4891.4,"f":0.840},{"k":"r","w":4891.46,"f":0.716},{"k":"r","w":4891.52,"f":0.730},
{"k":"r","w":4891.57,"f":0.820},{"k":"r","w":4891.62,"f":0.920},{"k":"r","w":4891.67,"f":0.975},{"k":"r","w":4891.72,"f":0.995},{"k":"r","w":4891.8,"f":1.000},{"k":"r","w":4892.29,"f":1.000},
{"k":"b","w":4887.66,"f":1.000},{"k":"b","w":4888.5,"f":1.000},{"k":"b","w":4888.8,"f":0.998},{"k":"b","w":4889.0,"f":0.995},{"k":"b","w":4889.2,"f":0.999},{"k":"b","w":4889.5,"f":1.000},{"k":"b","w":4890.5,"f":1.000},{"k":"b","w":4890.55,"f":0.995},{"k":"b","w":4890.6,"f":0.985},{"k":"b","w":4890.65,"f":0.960},
{"k":"b","w":4890.7,"f":0.930},{"k":"b","w":4890.75,"f":0.912},{"k":"b","w":4890.8,"f":0.925},{"k":"b","w":4890.85,"f":0.960},{"k":"b","w":4890.9,"f":0.990},{"k":"b","w":4890.95,"f":1.000},{"k":"b","w":4891.25,"f":1.000},{"k":"b","w":4891.3,"f":0.990},{"k":"b","w":4891.35,"f":0.960},{"k":"b","w":4891.4,"f":0.910},
{"k":"b","w":4891.46,"f":0.853},{"k":"b","w":4891.52,"f":0.870},{"k":"b","w":4891.57,"f":0.930},{"k":"b","w":4891.62,"f":0.980},{"k":"b","w":4891.67,"f":0.998},{"k":"b","w":4891.72,"f":1.000},{"k":"b","w":4892.29,"f":1.000},
{"k":"g","w":4887.66,"f":0.995},{"k":"g","w":4887.8,"f":0.995},{"k":"g","w":4888.0,"f":0.998},{"k":"g","w":4888.3,"f":1.000},{"k":"g","w":4888.5,"f":0.990},{"k":"g","w":4888.6,"f":0.973},{"k":"g","w":4888.7,"f":0.975},{"k":"g","w":4888.8,"f":0.983},{"k":"g","w":4888.9,"f":0.970},{"k":"g","w":4889.0,"f":0.947},
{"k":"g","w":4889.05,"f":0.950},{"k":"g","w":4889.15,"f":0.975},{"k":"g","w":4889.25,"f":0.995},{"k":"g","w":4889.35,"f":1.000},{"k":"g","w":4890.0,"f":1.000},{"k":"g","w":4890.4,"f":0.998},{"k":"g","w":4890.5,"f":0.995},{"k":"g","w":4890.55,"f":0.980},{"k":"g","w":4890.6,"f":0.930},{"k":"g","w":4890.65,"f":0.840},
{"k":"g","w":4890.7,"f":0.730},{"k":"g","w":4890.74,"f":0.660},{"k":"g","w":4890.78,"f":0.670},{"k":"g","w":4890.82,"f":0.760},{"k":"g","w":4890.86,"f":0.870},{"k":"g","w":4890.9,"f":0.950},{"k":"g","w":4890.95,"f":0.985},{"k":"g","w":4891.0,"f":0.995},{"k":"g","w":4891.25,"f":0.995},{"k":"g","w":4891.3,"f":0.960},
{"k":"g","w":4891.35,"f":0.880},{"k":"g","w":4891.4,"f":0.760},{"k":"g","w":4891.44,"f":0.650},{"k":"g","w":4891.48,"f":0.597},{"k":"g","w":4891.52,"f":0.620},{"k":"g","w":4891.56,"f":0.720},{"k":"g","w":4891.6,"f":0.840},{"k":"g","w":4891.65,"f":0.940},{"k":"g","w":4891.7,"f":0.985},{"k":"g","w":4891.75,"f":0.998},
{"k":"g","w":4891.8,"f":1.000},{"k":"g","w":4892.29,"f":1.000}
]
},
"concat": [
{
  "width": 569, "height": 303,
  "title": {"text": "T\u00a0\u00a0\u00a0\u200b", "fontStyle": "italic", "subtitle": "\u200b\u00a0\u00a0\u00a0eff", "subtitleFont": "DejaVu Sans", "subtitleFontSize": 21, "subtitleFontStyle": "italic", "subtitleColor": "black", "subtitlePadding": -18, "offset": 13.5},
  "data": {"name": "hb"},
  "transform": [{"filter": {"field": "k", "oneOf": ["o", "r", "bt", "gt"]}}],
  "mark": {"type": "line"},
  "encoding": {
    "x": {"field": "w", "type": "quantitative", "scale": {"domain": [4849.0, 4872.0], "nice": false, "zero": false}, "axis": {"values": [4850, 4855, 4860, 4865, 4870], "title": "Wavelength [Å]"}},
    "y": {"field": "f", "type": "quantitative", "scale": {"domain": [0.1245, 1.0515], "nice": false, "zero": false}, "axis": {"values": [0.2, 0.4, 0.6, 0.8, 1.0], "title": "Flux [norm.]"}},
    "color": {"field": "k", "type": "nominal", "scale": {"domain": ["o", "r", "bt", "gt"], "range": ["#000000", "#ff0000", "#0000ff", "#008000"]}, "legend": {"labelExpr": "datum.label == 'o' ? 'Observed' : datum.label == 'r' ? '5250, 2.5, -3.0, 1.0' : datum.label == 'bt' ? '4750, 2.5, -3.0, 1.0' : '5750, 2.5, -3.0, 1.0'", "encode": {"symbols": {"update": {"strokeWidth": {"signal": "datum.value == 'o' || datum.value == 'r' ? 1.5 : 2.8"}}}}}},
    "strokeDash": {"field": "k", "type": "nominal", "scale": {"domain": ["o", "r", "bt", "gt"], "range": [[1, 0], [1, 0], [2.8, 4.6], [2.8, 4.6]]}, "legend": {"labelExpr": "datum.label == 'o' ? 'Observed' : datum.label == 'r' ? '5250, 2.5, -3.0, 1.0' : datum.label == 'bt' ? '4750, 2.5, -3.0, 1.0' : '5750, 2.5, -3.0, 1.0'", "encode": {"symbols": {"update": {"strokeWidth": {"signal": "datum.value == 'o' || datum.value == 'r' ? 1.5 : 2.8"}}}}}},
    "strokeWidth": {"condition": {"test": "datum.k == 'o' || datum.k == 'r'", "value": 1.5}, "value": 2.8}
  }
},
{
  "width": 567, "height": 303,
  "title": {"text": "log g"},
  "data": {"name": "hb"},
  "transform": [{"filter": {"field": "k", "oneOf": ["o", "r", "bg", "gg"]}}],
  "mark": {"type": "line"},
  "encoding": {
    "x": {"field": "w", "type": "quantitative", "scale": {"domain": [4849.0, 4872.0], "nice": false, "zero": false}, "axis": {"values": [4850, 4855, 4860, 4865, 4870], "title": "Wavelength [Å]"}},
    "y": {"field": "f", "type": "quantitative", "scale": {"domain": [0.1245, 1.0515], "nice": false, "zero": false}, "axis": {"values": [0.2, 0.4, 0.6, 0.8, 1.0], "title": "Flux [norm.]"}},
    "color": {"field": "k", "type": "nominal", "scale": {"domain": ["o", "r", "bg", "gg"], "range": ["#000000", "#ff0000", "#0000ff", "#008000"]}, "legend": {"labelExpr": "datum.label == 'o' ? 'Observed' : datum.label == 'r' ? '5250, 2.5, -3.0, 1.0' : datum.label == 'bg' ? '5250, 0.5, -3.0, 1.0' : '5250, 4.5, -3.0, 1.0'", "encode": {"symbols": {"update": {"strokeWidth": {"signal": "datum.value == 'o' || datum.value == 'r' ? 1.5 : 2.8"}}}}}},
    "strokeDash": {"field": "k", "type": "nominal", "scale": {"domain": ["o", "r", "bg", "gg"], "range": [[1, 0], [1, 0], [2.8, 4.6], [2.8, 4.6]]}, "legend": {"labelExpr": "datum.label == 'o' ? 'Observed' : datum.label == 'r' ? '5250, 2.5, -3.0, 1.0' : datum.label == 'bg' ? '5250, 0.5, -3.0, 1.0' : '5250, 4.5, -3.0, 1.0'", "encode": {"symbols": {"update": {"strokeWidth": {"signal": "datum.value == 'o' || datum.value == 'r' ? 1.5 : 2.8"}}}}}},
    "strokeWidth": {"condition": {"test": "datum.k == 'o' || datum.k == 'r'", "value": 1.5}, "value": 2.8}
  }
},
{
  "width": 569, "height": 303,
  "title": {"text": "Metal Region 4870Å"},
  "data": {"name": "m1"},
  "mark": {"type": "line"},
  "encoding": {
    "x": {"field": "w", "type": "quantitative", "scale": {"domain": [4867.46, 4872.57], "nice": false, "zero": false}, "axis": {"values": [4868, 4869, 4870, 4871, 4872], "title": "Wavelength [Å]"}},
    "y": {"field": "f", "type": "quantitative", "scale": {"domain": [0.6235, 1.0305], "nice": false, "zero": false}, "axis": {"values": [0.7, 0.8, 0.9, 1.0], "title": "Flux [norm.]"}},
    "color": {"field": "k", "type": "nominal", "scale": {"domain": ["o", "r", "b", "g"], "range": ["#000000", "#ff0000", "#0000ff", "#008000"]}, "legend": {"labelExpr": "datum.label == 'o' ? 'Observed' : datum.label == 'r' ? '5250, 2.5, -3.0, 1.0' : datum.label == 'b' ? '5250, 2.5, -3.5, 1.0' : '5250, 2.5, -2.5, 1.0'", "encode": {"symbols": {"update": {"strokeWidth": {"signal": "datum.value == 'o' || datum.value == 'r' ? 1.5 : 2.8"}}}}}},
    "strokeDash": {"field": "k", "type": "nominal", "scale": {"domain": ["o", "r", "b", "g"], "range": [[1, 0], [1, 0], [2.8, 4.6], [2.8, 4.6]]}, "legend": {"labelExpr": "datum.label == 'o' ? 'Observed' : datum.label == 'r' ? '5250, 2.5, -3.0, 1.0' : datum.label == 'b' ? '5250, 2.5, -3.5, 1.0' : '5250, 2.5, -2.5, 1.0'", "encode": {"symbols": {"update": {"strokeWidth": {"signal": "datum.value == 'o' || datum.value == 'r' ? 1.5 : 2.8"}}}}}},
    "strokeWidth": {"condition": {"test": "datum.k == 'o' || datum.k == 'r'", "value": 1.5}, "value": 2.8}
  }
},
{
  "width": 567, "height": 303,
  "title": {"text": "Metal Region 4890Å"},
  "data": {"name": "m2"},
  "mark": {"type": "line"},
  "encoding": {
    "x": {"field": "w", "type": "quantitative", "scale": {"domain": [4887.43, 4892.52], "nice": false, "zero": false}, "axis": {"values": [4888, 4889, 4890, 4891, 4892], "title": "Wavelength [Å]"}},
    "y": {"field": "f", "type": "quantitative", "scale": {"domain": [0.5744, 1.0716], "nice": false, "zero": false}, "axis": {"values": [0.6, 0.7, 0.8, 0.9, 1.0], "title": "Flux [norm.]"}},
    "color": {"field": "k", "type": "nominal", "scale": {"domain": ["o", "r", "b", "g"], "range": ["#000000", "#ff0000", "#0000ff", "#008000"]}, "legend": {"labelExpr": "datum.label == 'o' ? 'Observed' : datum.label == 'r' ? '5250, 2.5, -3.0, 1.0' : datum.label == 'b' ? '5250, 2.5, -3.5, 1.0' : '5250, 2.5, -2.5, 1.0'", "encode": {"symbols": {"update": {"strokeWidth": {"signal": "datum.value == 'o' || datum.value == 'r' ? 1.5 : 2.8"}}}}}},
    "strokeDash": {"field": "k", "type": "nominal", "scale": {"domain": ["o", "r", "b", "g"], "range": [[1, 0], [1, 0], [2.8, 4.6], [2.8, 4.6]]}, "legend": {"labelExpr": "datum.label == 'o' ? 'Observed' : datum.label == 'r' ? '5250, 2.5, -3.0, 1.0' : datum.label == 'b' ? '5250, 2.5, -3.5, 1.0' : '5250, 2.5, -2.5, 1.0'", "encode": {"symbols": {"update": {"strokeWidth": {"signal": "datum.value == 'o' || datum.value == 'r' ? 1.5 : 2.8"}}}}}},
    "strokeWidth": {"condition": {"test": "datum.k == 'o' || datum.k == 'r'", "value": 1.5}, "value": 2.8}
  }
}
]
}
